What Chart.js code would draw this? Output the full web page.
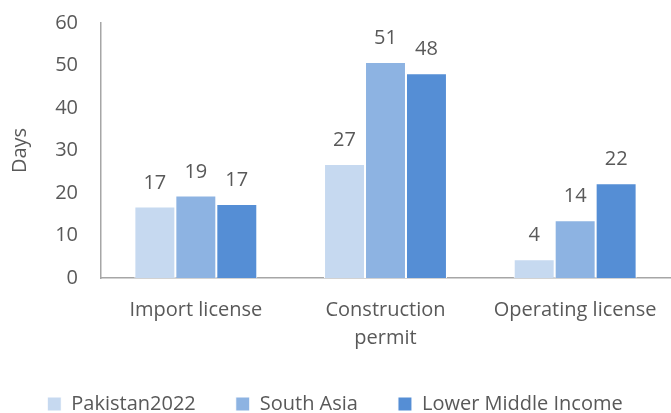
<!DOCTYPE html>
<html>
<head>
<meta charset="utf-8">
<script src="https://cdn.jsdelivr.net/npm/chart.js@4"></script>
<style>
  body { margin: 0; background: #fff; }
  #wrap { width: 671px; height: 413px; position: relative; }
</style>
</head>
<body>
<div id="wrap"><canvas id="diasChart"></canvas></div>
<script>
const categorias = ["Import license", ["Construction", "permit"], "Operating license"];
const pakistan2022 = [16.8, 26.8, 4.4];
const southAsia = [19.4, 50.8, 13.6];
const lowerMiddle = [17.4, 48.2, 22.3];
const ticksY = [0, 10, 20, 30, 40, 50, 60];

const cinza = "#595959";
const fonte = "'Open Sans', sans-serif";

// rotulos em cima das barras
const rotulos = {
  id: "rotulos",
  afterDatasetsDraw(chart) {
    const ctx = chart.ctx;
    ctx.save();
    ctx.font = "20px " + fonte;
    ctx.fillStyle = cinza;
    ctx.textAlign = "center";
    ctx.textBaseline = "alphabetic";
    chart.data.datasets.forEach((ds, i) => {
      chart.getDatasetMeta(i).data.forEach((bar, j) => {
        ctx.fillText(Math.round(ds.data[j]), bar.x, bar.y - 18);
      });
    });
    ctx.restore();
  },
};

new Chart(document.getElementById("diasChart"), {
  type: "bar",
  data: {
    labels: categorias,
    datasets: [
      { label: "Pakistan2022", data: pakistan2022, backgroundColor: "#C6D9F0" },
      { label: "South Asia", data: southAsia, backgroundColor: "#8DB3E2" },
      { label: "Lower Middle Income", data: lowerMiddle, backgroundColor: "#558ED5" },
    ],
  },
  options: {
    responsive: true,
    maintainAspectRatio: false,
    animation: false,
    layout: { padding: { top: 1, right: 1, bottom: -11, left: 0 } },
    datasets: {
      bar: {
        categoryPercentage: 0.648,
        barPercentage: 1,
        borderColor: "#ffffff",
        borderWidth: 1,
      },
    },
    scales: {
      x: {
        grid: { display: false, drawTicks: false },
        border: { color: "#a6a6a6", width: 1.5 },
        ticks: {
          color: cinza,
          padding: 18,
          font: { family: fonte, size: 20, lineHeight: 1.4 },
        },
        afterFit(scale) {
          scale.height = 76;
          scale.paddingLeft = 0;
          scale.paddingRight = 0;
        },
      },
      y: {
        min: 0,
        max: 60,
        grid: { display: false, drawTicks: false },
        border: { color: "#a6a6a6", width: 1.5 },
        afterBuildTicks(scale) {
          scale.ticks = ticksY.map((v) => ({ value: v }));
        },
        ticks: {
          color: cinza,
          padding: 23,
          font: { family: fonte, size: 20 },
        },
        title: {
          display: true,
          text: "Days",
          color: cinza,
          padding: { top: 8, bottom: 0 },
          font: { family: fonte, size: 20 },
        },
        afterFit(scale) {
          scale.width = 101;
          scale.paddingTop = 23;
          scale.paddingBottom = 0;
        },
      },
    },
    plugins: {
      legend: {
        position: "bottom",
        labels: {
          boxWidth: 14,
          boxHeight: 14,
          padding: 40,
          color: cinza,
          font: { family: fonte, size: 20 },
        },
      },
      tooltip: { enabled: false },
    },
  },
  plugins: [rotulos],
});
</script>
</body>
</html>
